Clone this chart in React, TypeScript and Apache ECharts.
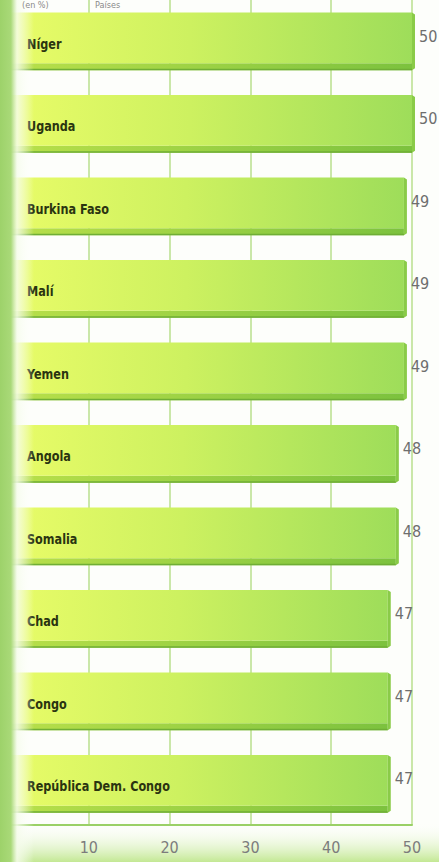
import React, { useEffect, useRef } from "react";
import * as echarts from "echarts";

const categories = [
  "Níger",
  "Uganda",
  "Burkina Faso",
  "Malí",
  "Yemen",
  "Angola",
  "Somalia",
  "Chad",
  "Congo",
  "República Dem. Congo",
];
const values = [50, 50, 49, 49, 49, 48, 48, 47, 47, 47];
const axisMin = 0;
const axisMax = 50;
const axisStep = 10;
const unitNote = "(en %)";
const titleFragment = "Países";

const FONT = "'DejaVu Sans Condensed', 'Liberation Sans Narrow', 'DejaVu Sans', sans-serif";

export default function App() {
  const ref = useRef<HTMLDivElement>(null);

  useEffect(() => {
    if (!ref.current) return;
    const chart = echarts.init(ref.current, null, { renderer: "svg" });

    const data = values.map((v, i) => [v, i]);

    const renderItem = (params: any, api: any) => {
      const v = api.value(0);
      const c = api.value(1);
      const start = api.coord([0, c]);
      const end = api.coord([v, c]);
      const band = api.size([0, 1])[1];
      const h = band * 0.7;
      const top = start[1] - h / 2;
      const bevel = 7;
      const x0 = start[0];
      const x1 = end[0];
      const w = x1 - x0;
      const name = categories[c];
      return {
        type: "group",
        children: [
          {
            type: "rect",
            shape: { x: x0, y: top + h - bevel, width: w, height: bevel },
            style: {
              fill: new echarts.graphic.LinearGradient(0, 0, 1, 0, [
                { offset: 0, color: "#b9e04a" },
                { offset: 1, color: "#7cc23e" },
              ]),
            },
          },
          {
            type: "rect",
            shape: { x: x0, y: top + h - 1.5, width: w, height: 1.5 },
            style: { fill: "#6fae36" },
          },
          {
            type: "rect",
            shape: { x: x0, y: top, width: w, height: h - bevel },
            style: {
              fill: new echarts.graphic.LinearGradient(0, 0, 1, 0, [
                { offset: 0, color: "#e9fc68" },
                { offset: 0.45, color: "#cdf160" },
                { offset: 1, color: "#9edd5a" },
              ]),
            },
          },
          {
            type: "polygon",
            shape: {
              points: [
                [x1, top],
                [x1 + 3, top + 2],
                [x1 + 3, top + h - 2],
                [x1, top + h],
              ],
            },
            style: { fill: "#8acb48" },
          },
          {
            type: "text",
            x: x0 + 19,
            y: start[1] + 2,
            scaleY: 1.15,
            style: {
              text: name,
              x: 0,
              y: 0,
              textAlign: "left",
              textVerticalAlign: "middle",
              fill: "#2a3410",
              fontSize: 12.5,
              fontWeight: "bold",
              fontFamily: FONT,
            },
          },
          {
            type: "text",
            style: {
              text: String(v),
              x: x1 + 7,
              y: start[1] - 5,
              textAlign: "left",
              textVerticalAlign: "middle",
              fill: "#6e6e6e",
              fontSize: 16,
              fontFamily: FONT,
            },
          },
        ],
      };
    };

    chart.setOption({
      animation: false,
      backgroundColor: "#fdfefb",
      grid: { left: 8, right: 27, top: -1, bottom: 37, containLabel: false },
      xAxis: {
        type: "value",
        min: axisMin,
        max: axisMax,
        interval: axisStep,
        axisLine: { show: true, lineStyle: { color: "#9ad066", width: 2 } },
        axisTick: { show: false },
        splitLine: { show: true, lineStyle: { color: "#b8df8e", width: 1.5 } },
        axisLabel: {
          margin: 14,
          fontSize: 16,
          fontFamily: FONT,
          color: (val: any) => (Number(val) === 0 ? "rgba(120,120,120,0.25)" : "#7c7c7c"),
        },
      },
      yAxis: {
        type: "category",
        data: categories,
        inverse: true,
        axisLine: { show: false },
        axisTick: { show: false },
        axisLabel: { show: false },
        splitLine: { show: false },
      },
      graphic: [
        {
          type: "rect",
          left: 0,
          top: 822,
          shape: { width: 439, height: 40 },
          z: -10,
          style: {
            fill: new echarts.graphic.LinearGradient(0, 0, 0, 1, [
              { offset: 0, color: "rgba(255,255,255,0)" },
              { offset: 1, color: "#c3e893" },
            ]),
          },
        },
        {
          type: "rect",
          left: 0,
          top: 0,
          shape: { width: 34, height: 862 },
          z: 100,
          style: {
            fill: new echarts.graphic.LinearGradient(0, 0, 1, 0, [
              { offset: 0, color: "#9dd26a" },
              { offset: 0.32, color: "#a9d978" },
              { offset: 0.5, color: "rgba(245,252,235,0.85)" },
              { offset: 1, color: "rgba(255,255,255,0)" },
            ]),
          },
        },
        {
          type: "text",
          left: 22,
          top: 0,
          z: 101,
          style: { text: unitNote, fill: "#8a8a8a", fontSize: 9, fontFamily: FONT },
        },
        {
          type: "text",
          left: 95,
          top: 0,
          z: 101,
          style: { text: titleFragment, fill: "#8a8a8a", fontSize: 9, fontFamily: FONT },
        },
      ],
      series: [
        {
          type: "custom",
          renderItem,
          encode: { x: 0, y: 1 },
          data,
          z: 5,
        },
      ],
    });

    return () => chart.dispose();
  }, []);

  return (
    <div
      ref={ref}
      style={{ position: "fixed", left: 0, top: 0, width: 439, height: 862 }}
    />
  );
}
